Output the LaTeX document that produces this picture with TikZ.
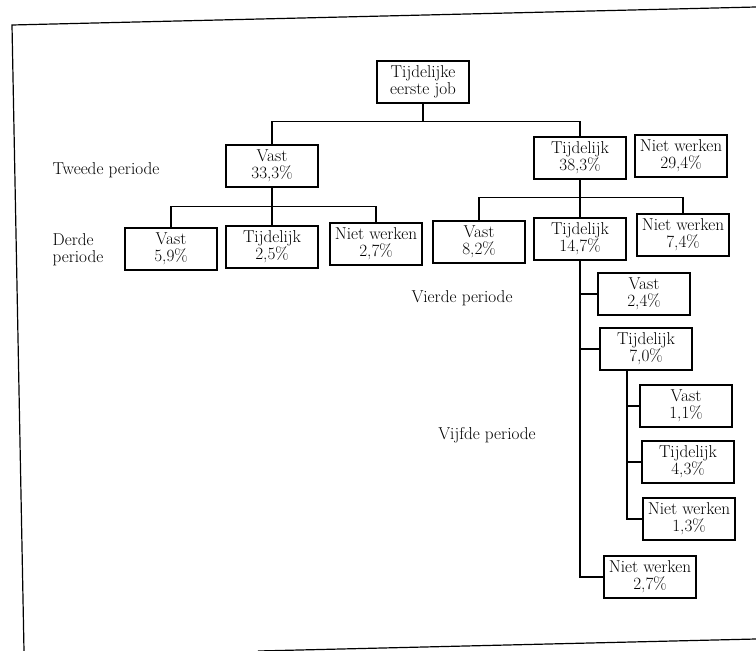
\documentclass[tikz,border=0pt]{standalone}
\begin{document}
\begin{tikzpicture}[x=1pt, y=-1pt,
    every node/.style={font=\fontsize{17.2}{17}\selectfont},
    box/.style={rectangle, draw, line width=1.1pt, minimum width=92pt, minimum height=42pt, inner sep=0pt, align=center},
    period/.style={align=left, inner sep=0pt},
    link/.style={line width=1.1pt}
]
\useasboundingbox (0,0) rectangle (756,651);

% Page frame - slightly skewed like the scan
\draw[line width=1.2pt] (24,651) -- (12,25) -- (756,7);
\draw[line width=1.2pt] (258,651) -- (756,639);

% First job
\node[box] (root) at (423,82) {Tijdelijke\\eerste job};

% Second period
\node[period] (p2) at (106,170) {Tweede periode};
\node[box] (vast2) at (272,166) {Vast\\33,3\%};
\node[box] (tijd2) at (580,158) {Tijdelijk\\38,3\%};
\node[box] (niet2) at (681,156) {Niet werken\\29,4\%};

% Third period
\node[period] (p3) at (78,250) {Derde\\periode};
\node[box] (vast3a) at (171,249) {Vast\\5,9\%};
\node[box] (tijd3a) at (272,247) {Tijdelijk\\2,5\%};
\node[box] (niet3a) at (376,244) {Niet werken\\2,7\%};
\node[box] (vast3b) at (479,242) {Vast\\8,2\%};
\node[box] (tijd3b) at (580,239) {Tijdelijk\\14,7\%};
\node[box] (niet3b) at (683,235) {Niet werken\\7,4\%};

% Fourth period
\node[period] (p4) at (462,298) {Vierde periode};
\node[box] (vast4) at (644,294) {Vast\\2,4\%};
\node[box] (tijd4) at (646,349) {Tijdelijk\\7,0\%};
\node[box] (niet4) at (650,577) {Niet werken\\2,7\%};

% Fifth period
\node[period] (p5) at (487,435) {Vijfde periode};
\node[box] (vast5) at (686,406) {Vast\\1,1\%};
\node[box] (tijd5) at (688,462) {Tijdelijk\\4,3\%};
\node[box] (niet5) at (689,519) {Niet werken\\1,3\%};

% Tree lines
\draw[link] (root.south) -- ++(0,18) -| (vast2.north);
\draw[link] (root.south) ++(0,18) -| (tijd2.north);

\draw[link] (vast2.south) -- ++(0,19) -| (vast3a.north);
\draw[link] (vast2.south) -- (tijd3a.north);
\draw[link] (vast2.south) ++(0,19) -| (niet3a.north);

\draw[link] (tijd2.south) -- ++(0,18) -| (vast3b.north);
\draw[link] (tijd2.south) -- (tijd3b.north);
\draw[link] (tijd2.south) ++(0,18) -| (niet3b.north);

\draw[link] (tijd3b.south) |- (niet4.west);
\draw[link] (tijd3b.south) |- (vast4.west);
\draw[link] (tijd3b.south) |- (tijd4.west);

\draw[link] ([xshift=-19pt]tijd4.south) |- (niet5.west);
\draw[link] ([xshift=-19pt]tijd4.south) |- (vast5.west);
\draw[link] ([xshift=-19pt]tijd4.south) |- (tijd5.west);

\end{tikzpicture}
\end{document}
